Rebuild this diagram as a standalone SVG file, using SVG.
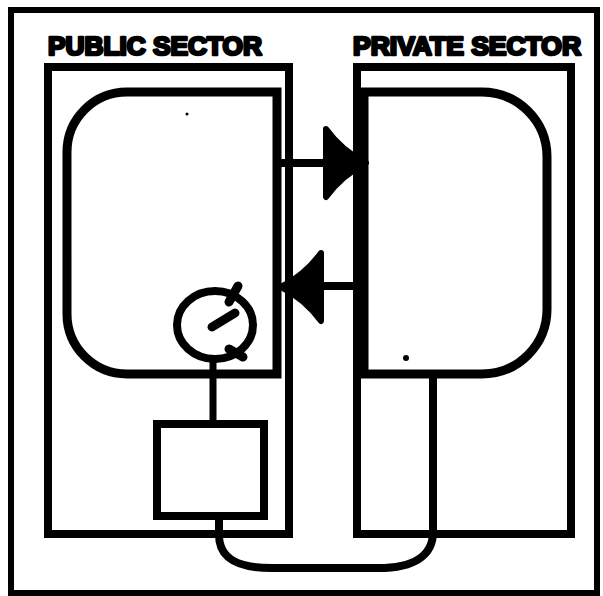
<svg xmlns="http://www.w3.org/2000/svg" width="603" height="596" viewBox="0 0 603 596">
<style>
.ln{fill:none;stroke:#000;stroke-linejoin:round;stroke-linecap:round}
.t{font-family:"Liberation Sans",Arial,sans-serif;font-weight:bold;font-size:25px;fill:#000;stroke:#000;stroke-width:2.6;stroke-linejoin:round}
.ah{fill:#000;stroke:#000;stroke-width:6;stroke-linejoin:round}
</style>
<rect width="603" height="596" fill="#fff"/>
<rect id="frame" x="11" y="10" width="586" height="583" class="ln" style="stroke-width:6;stroke-linejoin:miter"/>
<g id="public-sector">
  <rect x="48" y="67" width="241" height="467" class="ln" style="stroke-width:8;stroke-linejoin:miter"/>
  <text x="48" y="55" class="t" textLength="214" lengthAdjust="spacingAndGlyphs">PUBLIC SECTOR</text>
</g>
<g id="private-sector">
  <rect x="357" y="67" width="214" height="467" class="ln" style="stroke-width:8;stroke-linejoin:miter"/>
  <text x="353" y="55" class="t" textLength="228" lengthAdjust="spacingAndGlyphs">PRIVATE SECTOR</text>
</g>
<g id="public-sphere">
  <path d="M277,92 H127 A60,60 0 0 0 67,152 V314 A60,60 0 0 0 127,374 H277 Z" class="ln" style="stroke-width:9;stroke-linejoin:miter"/>
  <circle cx="187" cy="114" r="1.5" fill="#000"/>
</g>
<g id="private-sphere">
  <path d="M364,92 H482 A65,65 0 0 1 547,157 V309 A65,65 0 0 1 482,374 H364 Z" class="ln" style="stroke-width:9;stroke-linejoin:miter"/>
  <circle cx="406" cy="358" r="3" fill="#000"/>
</g>
<g id="meter">
  <ellipse cx="215" cy="325" rx="38" ry="34" class="ln" style="stroke-width:8"/>
  <line x1="238" y1="286" x2="229" y2="302" class="ln" style="stroke-width:9"/>
  <line x1="229" y1="349" x2="243" y2="357" class="ln" style="stroke-width:9"/>
  <line x1="212" y1="327" x2="235" y2="313" class="ln" style="stroke-width:9"/>
</g>
<g id="box">
  <rect x="157" y="424" width="107" height="92" class="ln" style="stroke-width:8;stroke-linejoin:miter"/>
</g>
<g id="connectors">
  <line x1="277" y1="163" x2="330" y2="163" class="ln" style="stroke-width:8"/>
  <path d="M326,129 Q342,151 366,163 Q342,175 326,197 Z" class="ah"/>
  <line x1="318" y1="286" x2="360" y2="286" class="ln" style="stroke-width:8"/>
  <path d="M321,253 Q305,275 281,287 Q305,299 321,321 Z" class="ah"/>
  <line x1="213" y1="359" x2="213" y2="424" class="ln" style="stroke-width:7"/>
  <path d="M219,516 V535 C219,560 240,568 272,568 H378 C415,568 433,555 433,532 V374" class="ln" style="stroke-width:8"/>
</g>
</svg>
